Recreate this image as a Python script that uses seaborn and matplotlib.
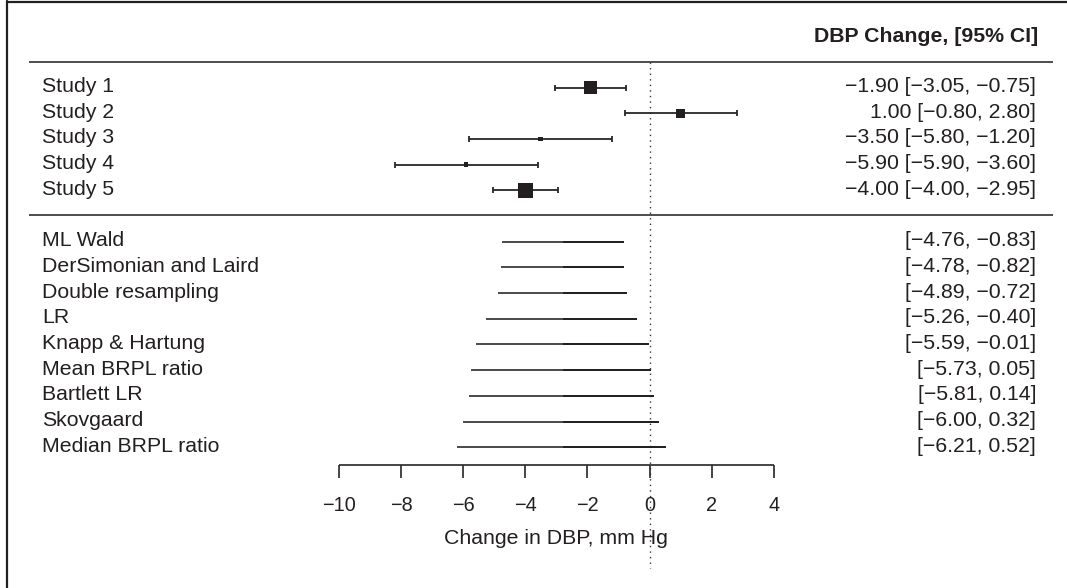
import numpy as np
import pandas as pd
import matplotlib
matplotlib.use("Agg")
import matplotlib.pyplot as plt
from matplotlib.lines import Line2D
import seaborn as sns

# ---------------- data ----------------
studies = ["Study 1", "Study 2", "Study 3", "Study 4", "Study 5"]
study_est = [-1.90, 1.00, -3.50, -5.90, -4.00]
# interval as drawn in the picture
study_lo_drawn = [-3.05, -0.80, -5.80, -8.20, -5.05]
study_hi_drawn = [-0.75, 2.80, -1.20, -3.60, -2.95]
# interval as printed in the right-hand column
study_lo_text = [-3.05, -0.80, -5.80, -5.90, -4.00]
study_hi_text = [-0.75, 2.80, -1.20, -3.60, -2.95]
# relative box size (largest = 1)
box_rel = [0.95, 0.62, 0.31, 0.29, 1.00]

methods = ["ML Wald", "DerSimonian and Laird", "Double resampling", "LR",
           "Knapp & Hartung", "Mean BRPL ratio", "Bartlett LR", "Skovgaard",
           "Median BRPL ratio"]
method_lo = [-4.76, -4.78, -4.89, -5.26, -5.59, -5.73, -5.81, -6.00, -6.21]
method_hi = [-0.83, -0.82, -0.72, -0.40, -0.01, 0.05, 0.14, 0.32, 0.52]
pooled_est = -2.795

x_ticks = [-10, -8, -6, -4, -2, 0, 2, 4]
x_label = "Change in DBP, mm Hg"
header = "DBP Change, [95% CI]"

# ---------------- style ----------------
sns.set_theme(style="white")
plt.rcParams["font.family"] = ["Liberation Sans", "DejaVu Sans"]
FS = 15.3
FS_TICK = 14.3
TXT = "#231f20"
LINE = "#262626"


def fmt(v):
    return f"{v:.2f}".replace("-", "\u2212")


fig = plt.figure(figsize=(10.67, 5.88), dpi=100)
ax = fig.add_axes([0, 0, 1, 1])

study_rows = np.arange(len(studies), dtype=float)
method_rows = np.arange(len(methods), dtype=float) + len(studies) + 1

x_left = -19.55
x_right = 12.44
base_off = 0.175

# header
ax.text(12.50, -1.78, header, ha="right", va="baseline", fontsize=FS,
        fontweight="bold", color=TXT)
ax.hlines([-1.0, 4.96], -19.97, 12.98, color="#4d4d4d", lw=1.4)

# reference line at 0
ax.vlines(0, -1.0, 18.7, color="#333333", lw=1.0, linestyles=(0, (1, 3)))

# study CIs
ax.errorbar(study_est, study_rows,
            xerr=[np.array(study_est) - np.array(study_lo_drawn),
                  np.array(study_hi_drawn) - np.array(study_est)],
            fmt="none", ecolor=LINE, elinewidth=1.3, capsize=2.5,
            capthick=1.3, zorder=2)
df = pd.DataFrame({"est": study_est, "row": study_rows,
                   "s": [(b * 14.6 * 0.72) ** 2 for b in box_rel]})
sns.scatterplot(data=df, x="est", y="row", s=df["s"], marker="s",
                color=TXT, linewidth=0, ax=ax, zorder=3, legend=False)

for r, name, e, lo, hi in zip(study_rows, studies, study_est,
                              study_lo_text, study_hi_text):
    ax.text(x_left, r + base_off, name, ha="left", va="baseline",
            fontsize=FS, color=TXT)
    ax.text(x_right, r + base_off, f"{fmt(e)} [{fmt(lo)}, {fmt(hi)}]",
            ha="right", va="baseline", fontsize=FS, color=TXT)

# method intervals
ax.hlines(method_rows, method_lo, pooled_est, color="#4a4a4a", lw=1.4)
ax.hlines(method_rows, pooled_est, method_hi, color="#1c1c1c", lw=1.4)
for r, name, lo, hi in zip(method_rows, methods, method_lo, method_hi):
    ax.text(x_left, r + base_off, name, ha="left", va="baseline",
            fontsize=FS, color=TXT)
    ax.text(x_right, r + base_off, f"[{fmt(lo)}, {fmt(hi)}]",
            ha="right", va="baseline", fontsize=FS, color=TXT)

# x axis
axis_row = 14.69
ax.hlines(axis_row, x_ticks[0], x_ticks[-1], color=LINE, lw=1.2)
ax.vlines(x_ticks, axis_row, 15.18, color=LINE, lw=1.2)
for t in x_ticks:
    ax.text(t, 16.47, fmt(t).replace(".00", ""), ha="center", va="baseline",
            fontsize=FS_TICK, color=TXT)
ax.text(np.mean([x_ticks[0], x_ticks[-1]]), 17.76, x_label, ha="center",
        va="baseline", fontsize=FS, color=TXT)

ax.set_xlim(-20.904, 13.437)
ax.set_ylim(19.475, -3.405)
ax.axis("off")

# outer frame (top and left only)
fig.add_artist(Line2D([7.3 / 1067, 1.0], [1 - 1.7 / 588, 1 - 1.7 / 588],
                      transform=fig.transFigure, color=TXT, lw=1.6))
fig.add_artist(Line2D([7.3 / 1067, 7.3 / 1067], [0.0, 1 - 1.0 / 588],
                      transform=fig.transFigure, color=TXT, lw=1.6))

fig.savefig("out.png", dpi=100, facecolor="white")
